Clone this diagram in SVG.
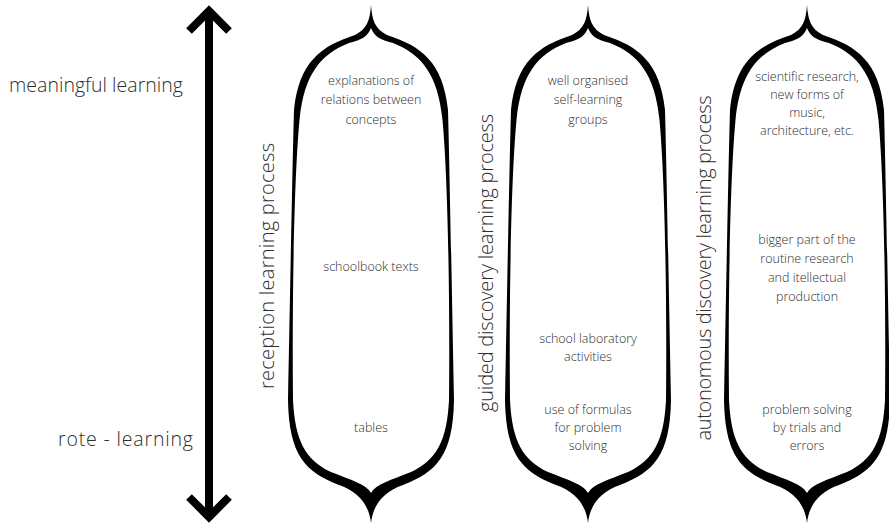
<svg xmlns="http://www.w3.org/2000/svg" width="889" height="527" viewBox="0 0 889 527">
  <style>
    .lbl { font-family: "Open Sans", "Noto Sans", sans-serif; font-weight: 300; fill: #2e2e2e; }
    .side { font-size: 19.5px; }
    .proc { font-size: 20px; text-anchor: middle; }
    .item { font-size: 12.5px; text-anchor: middle; }
    .brace { fill: #000; fill-rule: evenodd; }
    .shaft { stroke: #000; stroke-width: 8; fill: none; }
  </style>
  <defs>
    <!-- chevron arrowhead, pointing along the line direction -->
    <marker id="chev" markerUnits="userSpaceOnUse" markerWidth="60" markerHeight="60" refX="0" refY="0" viewBox="-30 -30 60 60" orient="auto-start-reverse" overflow="visible">
      <path d="M -20,-20 L 0,0 L -20,20" fill="none" stroke="#000" stroke-width="8" stroke-linejoin="miter" stroke-miterlimit="4"/>
    </marker>
    <!-- curly bracket outline: outer contour + inner contour, filled even-odd -->
    <path id="bracket" class="brace" d="
      M 0,5 C -1,20 -4,29 -16,35 C -50,46 -72,62 -77,110 C -79,180 -81,300 -83,400
      C -82,455 -66,472 -32,485 C -12,492 -2,505 0,523
      C 2,505 12,492 32,485 C 66,472 82,455 83,400 C 81,300 79,180 77,110
      C 72,62 50,46 16,35 C 4,29 1,20 0,5 Z
      M 0,28 C -3,36 -9,40 -22,43 C -50,54 -67,74 -71.5,120 C -77,180 -79,300 -78,400
      C -76,440 -66,460 -40,472 C -20,480 -5,484 0,493
      C 5,484 20,480 40,472 C 66,460 76,440 78,400 C 79,300 77,180 71.5,120
      C 67,74 50,54 22,43 C 9,40 3,36 0,28 Z"/>
  </defs>

  <!-- scale labels -->
  <g id="scale-labels">
    <text class="lbl side" x="9" y="92" textLength="174" lengthAdjust="spacing">meaningful learning</text>
    <text class="lbl side" x="58" y="446" textLength="135" lengthAdjust="spacing">rote - learning</text>
  </g>

  <!-- double-headed vertical arrow -->
  <g id="connectors">
    <line class="shaft" x1="209" y1="11" x2="209" y2="517" marker-start="url(#chev)" marker-end="url(#chev)"/>
  </g>

  <!-- reception learning process -->
  <g id="reception">
    <use href="#bracket" x="371" y="0"/>
    <text class="lbl proc" transform="translate(274,266) rotate(-90)" textLength="246" lengthAdjust="spacing">reception learning process</text>
    <text class="lbl item" x="371" y="85">explanations of</text>
    <text class="lbl item" x="371" y="104">relations between</text>
    <text class="lbl item" x="371" y="124">concepts</text>
    <text class="lbl item" x="371" y="271">schoolbook texts</text>
    <text class="lbl item" x="371" y="432">tables</text>
  </g>

  <!-- guided discovery learning process -->
  <g id="guided">
    <use href="#bracket" x="588" y="0"/>
    <text class="lbl proc" transform="translate(493,263) rotate(-90)" textLength="298" lengthAdjust="spacing">guided discovery learning process</text>
    <text class="lbl item" x="588" y="85">well organised</text>
    <text class="lbl item" x="588" y="104">self-learning</text>
    <text class="lbl item" x="588" y="124">groups</text>
    <text class="lbl item" x="588" y="343">school laboratory</text>
    <text class="lbl item" x="588" y="361">activities</text>
    <text class="lbl item" x="588" y="414">use of formulas</text>
    <text class="lbl item" x="588" y="432">for problem</text>
    <text class="lbl item" x="588" y="450">solving</text>
  </g>

  <!-- autonomous discovery learning process -->
  <g id="autonomous">
    <use href="#bracket" x="807" y="0"/>
    <text class="lbl proc" transform="translate(711,268) rotate(-90)" textLength="345" lengthAdjust="spacing">autonomous discovery learning process</text>
    <text class="lbl item" x="807" y="81">scientific research,</text>
    <text class="lbl item" x="807" y="99">new forms of</text>
    <text class="lbl item" x="807" y="117">music,</text>
    <text class="lbl item" x="807" y="135">architecture, etc.</text>
    <text class="lbl item" x="807" y="244">bigger part of the</text>
    <text class="lbl item" x="807" y="263">routine research</text>
    <text class="lbl item" x="807" y="282">and itellectual</text>
    <text class="lbl item" x="807" y="301">production</text>
    <text class="lbl item" x="807" y="414">problem solving</text>
    <text class="lbl item" x="807" y="432">by trials and</text>
    <text class="lbl item" x="807" y="450">errors</text>
  </g>
</svg>
